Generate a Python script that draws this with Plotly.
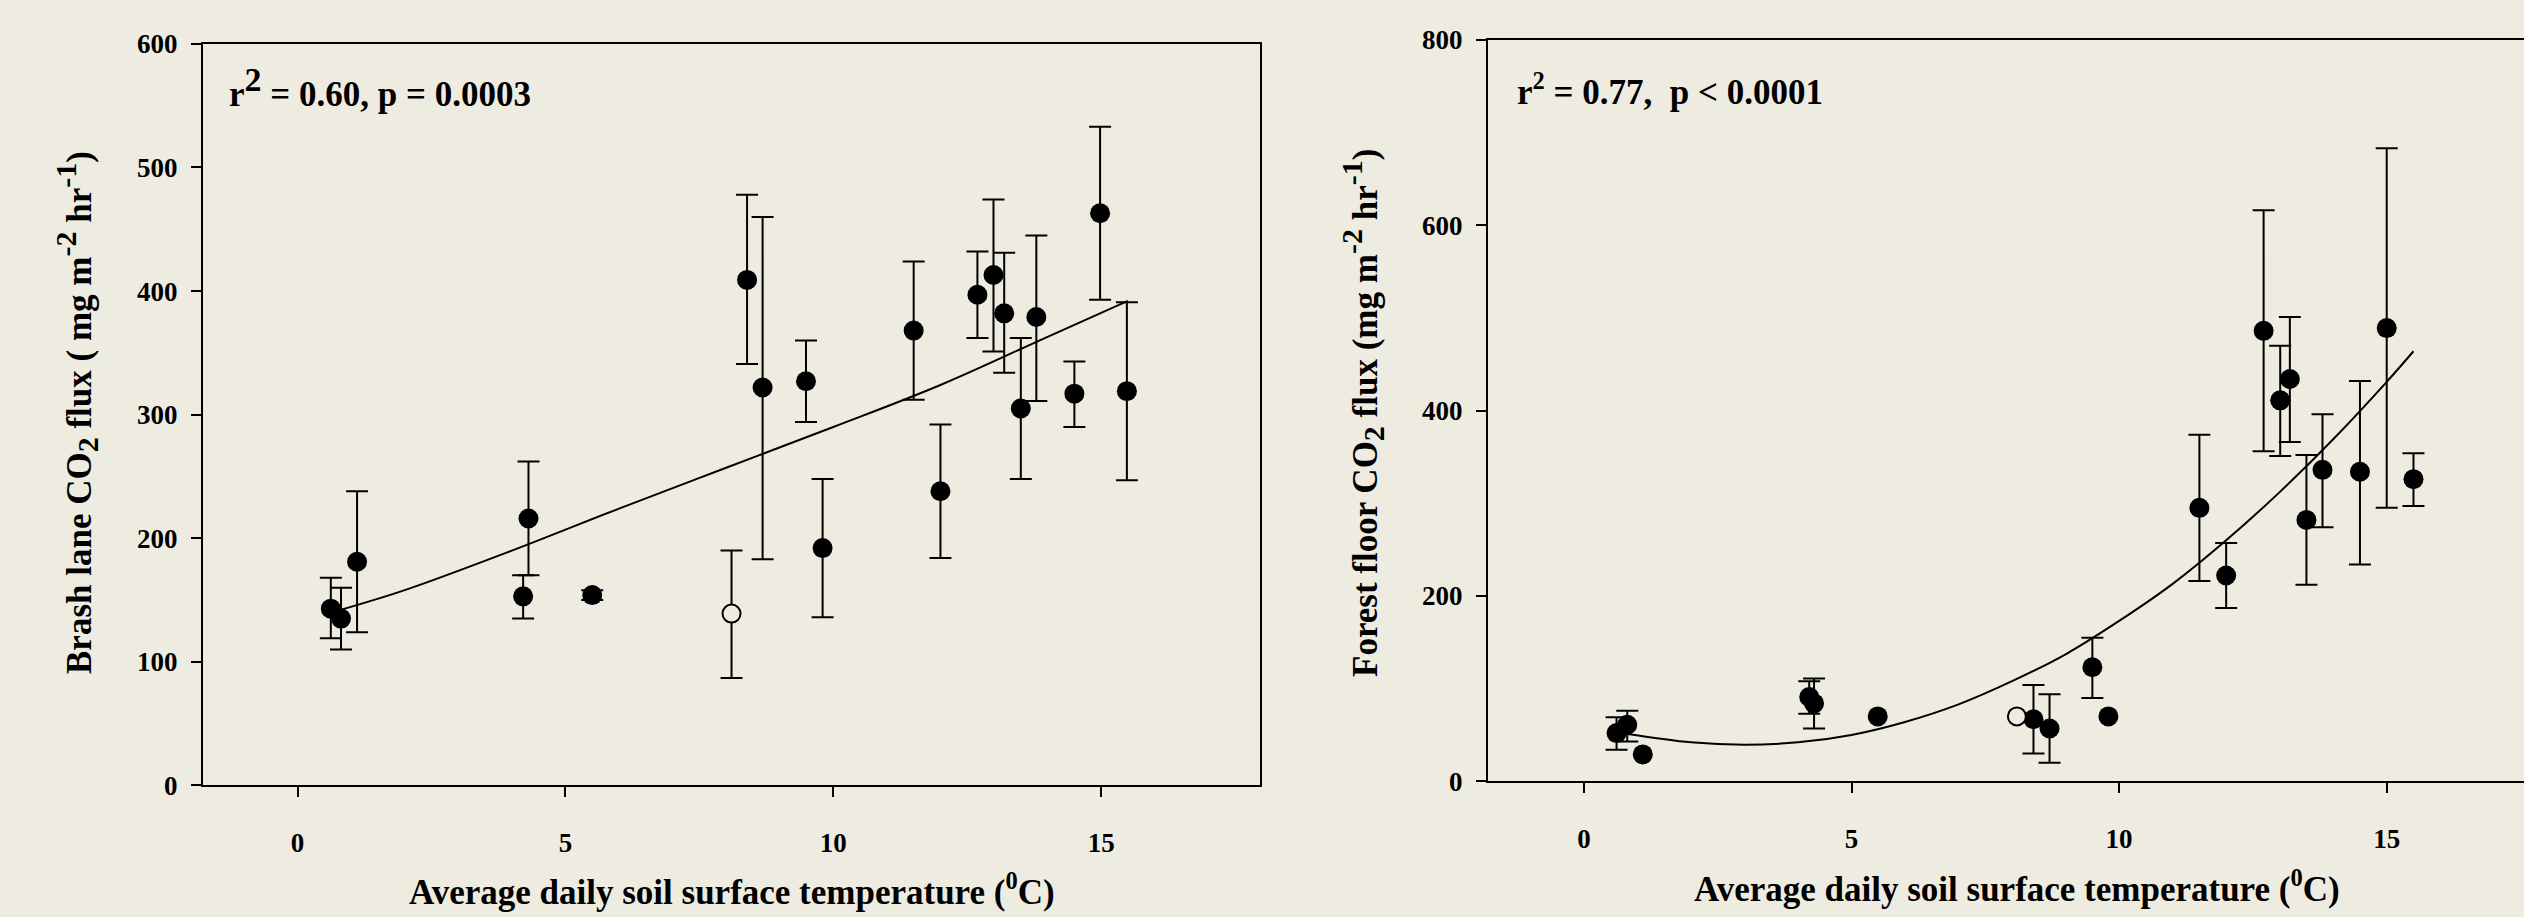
import plotly.graph_objects as go

# ---------------- data: left panel (brash lane) ----------------
temp_bl = [0.62, 0.81, 1.11, 4.21, 4.31, 5.50, 8.39, 8.68, 9.49, 9.80, 11.50,
           12.00, 12.69, 12.99, 13.19, 13.50, 13.79, 14.50, 14.98, 15.48]
flux_bl = [143, 135, 181, 153, 216, 154, 409, 322, 327, 192, 368,
           238, 397, 413, 382, 305, 379, 317, 463, 319]
upper_bl = [168, 160, 238, 170, 262, 158, 478, 460, 360, 248, 424,
            292, 432, 474, 431, 362, 445, 343, 533, 391]
lower_bl = [119, 110, 124, 135, 170, 150, 341, 183, 294, 136, 312,
            184, 362, 351, 334, 248, 311, 290, 393, 247]
open_temp_bl = [8.10]
open_flux_bl = [139]
open_upper_bl = [190]
open_lower_bl = [87]
fit_temp_bl = [0.8, 2, 4, 6, 8, 10, 12, 14, 15.5]
fit_flux_bl = [142, 158, 190, 224, 257, 290, 324, 363, 392]

# ---------------- data: right panel (forest floor) ----------------
temp_ff = [0.61, 0.81, 1.10, 4.21, 4.30, 5.49, 8.40, 8.70, 9.50, 9.80, 11.50,
           12.00, 12.70, 13.01, 13.19, 13.50, 13.80, 14.50, 15.00, 15.50]
flux_ff = [52, 61, 29, 91, 84, 70, 67, 57, 123, 70, 295,
           222, 486, 411, 434, 282, 336, 334, 489, 326]
upper_ff = [69, 76, None, 108, 111, None, 104, 94, 155, None, 374,
            257, 616, 470, 501, 352, 396, 432, 683, 354]
lower_ff = [34, 43, None, 73, 57, None, 30, 20, 90, None, 216,
            187, 356, 351, 366, 212, 274, 234, 295, 297]
open_temp_ff = [8.09]
open_flux_ff = [70]
fit_temp_ff = [0.82, 2, 3, 4, 5, 6, 7, 8, 9, 10, 11, 12, 13, 14, 15, 15.5]
fit_flux_ff = [51, 42, 39.5, 42, 50, 64, 83, 108, 137, 173, 213, 260, 312, 369, 431, 464]

# ---------------- text ----------------
def big(s, size):
    return "<span style='font-size:%dpx'>%s</span>" % (size, s)

ytitle_bl = ("Brash lane CO<sub>" + big("2", 30) + "</sub> flux ( mg m<sup>" + big("-2", 30)
             + "</sup> hr<sup>" + big("-1", 30) + "</sup>)")
ytitle_ff = ("Forest floor CO<sub>" + big("2", 30) + "</sub> flux (mg m<sup>" + big("-2", 30)
             + "</sup> hr<sup>" + big("-1", 30) + "</sup>)")
xtitle = "Average daily soil surface temperature (<sup>0</sup>C)"
stat_bl = "r<sup>" + big("2", 34) + "</sup> = 0.60, p = 0.0003"
stat_ff = "r<sup>2</sup> = 0.77,&nbsp;&nbsp;p &lt; 0.0001"
xticks = [0, 5, 10, 15]

W, H = 2524, 917
BG = "#EEECE1"
FONT = "Liberation Serif, Times New Roman, serif"


def px_x(p):
    return p / W


def px_y(p):
    return 1 - p / H


fig = go.Figure()

# left panel
fig.add_trace(go.Scatter(x=fit_temp_bl, y=fit_flux_bl, mode="lines",
                         line=dict(color="black", width=2, shape="spline"),
                         xaxis="x", yaxis="y", showlegend=False, hoverinfo="skip"))
fig.add_trace(go.Scatter(
    x=temp_bl, y=flux_bl, mode="markers",
    marker=dict(color="black", size=20, symbol="circle"),
    error_y=dict(type="data", symmetric=False,
                 array=[u - v for u, v in zip(upper_bl, flux_bl)],
                 arrayminus=[v - l for v, l in zip(flux_bl, lower_bl)],
                 color="black", thickness=2, width=11),
    xaxis="x", yaxis="y", showlegend=False))
fig.add_trace(go.Scatter(
    x=open_temp_bl, y=open_flux_bl, mode="markers",
    marker=dict(color=BG, size=18, symbol="circle",
                line=dict(color="black", width=2)),
    error_y=dict(type="data", symmetric=False,
                 array=[u - v for u, v in zip(open_upper_bl, open_flux_bl)],
                 arrayminus=[v - l for v, l in zip(open_flux_bl, open_lower_bl)],
                 color="black", thickness=2, width=11),
    xaxis="x", yaxis="y", showlegend=False))

# right panel
fig.add_trace(go.Scatter(x=fit_temp_ff, y=fit_flux_ff, mode="lines",
                         line=dict(color="black", width=2, shape="spline"),
                         xaxis="x2", yaxis="y2", showlegend=False, hoverinfo="skip"))
idx_err = [i for i, u in enumerate(upper_ff) if u is not None]
idx_noerr = [i for i, u in enumerate(upper_ff) if u is None]
fig.add_trace(go.Scatter(
    x=[temp_ff[i] for i in idx_err], y=[flux_ff[i] for i in idx_err], mode="markers",
    marker=dict(color="black", size=20, symbol="circle"),
    error_y=dict(type="data", symmetric=False,
                 array=[upper_ff[i] - flux_ff[i] for i in idx_err],
                 arrayminus=[flux_ff[i] - lower_ff[i] for i in idx_err],
                 color="black", thickness=2, width=11),
    xaxis="x2", yaxis="y2", showlegend=False))
fig.add_trace(go.Scatter(
    x=[temp_ff[i] for i in idx_noerr], y=[flux_ff[i] for i in idx_noerr], mode="markers",
    marker=dict(color="black", size=20, symbol="circle"),
    xaxis="x2", yaxis="y2", showlegend=False))
fig.add_trace(go.Scatter(
    x=open_temp_ff, y=open_flux_ff, mode="markers",
    marker=dict(color=BG, size=18, symbol="circle",
                line=dict(color="black", width=2)),
    xaxis="x2", yaxis="y2", showlegend=False))

tickfont = dict(family=FONT, size=27, color="black", weight="bold")
axis_common = dict(showline=True, linecolor="black", linewidth=2, ticks="outside",
                   ticklen=10, tickwidth=2, tickcolor="black", showgrid=False,
                   zeroline=False, tickfont=tickfont, automargin=False)

fig.update_layout(
    template="none",
    width=W, height=H, autosize=False,
    margin=dict(l=0, r=0, t=0, b=0, pad=0, autoexpand=False),
    paper_bgcolor=BG, plot_bgcolor=BG,
    font=dict(family=FONT, color="black"),
    xaxis=dict(domain=[px_x(203), px_x(1260)], range=[-1.766, 17.965],
               tickvals=xticks, mirror=True, anchor="y", ticklabelstandoff=22,
               **axis_common),
    yaxis=dict(domain=[px_y(785.4), px_y(43.9)], range=[0, 600], dtick=100,
               mirror=True, anchor="x", ticklabelstandoff=8, **axis_common),
    xaxis2=dict(domain=[px_x(1488), 1.0], range=[-1.792, 17.565],
                tickvals=xticks, mirror=True, anchor="y2", ticklabelstandoff=22,
                **axis_common),
    yaxis2=dict(domain=[px_y(781.3), px_y(39.8)], range=[0, 800], dtick=200,
                mirror=False, anchor="x2", ticklabelstandoff=8, **axis_common),
)

tfont = dict(family=FONT, size=35, color="black", weight="bold")
yfont = dict(family=FONT, size=35, color="black", weight="bold")
sfont = dict(family=FONT, size=35, color="black", weight="bold")
fig.add_annotation(text=xtitle, x=px_x(732), y=px_y(889), xref="paper", yref="paper",
                   showarrow=False, font=tfont, xanchor="center", yanchor="middle")
fig.add_annotation(text=xtitle, x=px_x(2017), y=px_y(886), xref="paper", yref="paper",
                   showarrow=False, font=tfont, xanchor="center", yanchor="middle")
fig.add_annotation(text=ytitle_bl, x=px_x(76), y=px_y(413), xref="paper", yref="paper",
                   showarrow=False, font=yfont, textangle=-90,
                   xanchor="center", yanchor="middle")
fig.add_annotation(text=ytitle_ff, x=px_x(1362), y=px_y(413), xref="paper", yref="paper",
                   showarrow=False, font=yfont, textangle=-90,
                   xanchor="center", yanchor="middle")
fig.add_annotation(text=stat_bl, x=px_x(227), y=px_y(88), xref="paper", yref="paper",
                   showarrow=False, font=sfont, xanchor="left", yanchor="middle")
fig.add_annotation(text=stat_ff, x=px_x(1515), y=px_y(90), xref="paper", yref="paper",
                   showarrow=False, font=sfont, xanchor="left", yanchor="middle")

fig.write_html(
    "out.html",
    config={"displayModeBar": False},
    post_script="document.body.style.margin='0px';"
                "document.documentElement.style.overflow='hidden';"
                "document.body.style.overflow='hidden';",
)
